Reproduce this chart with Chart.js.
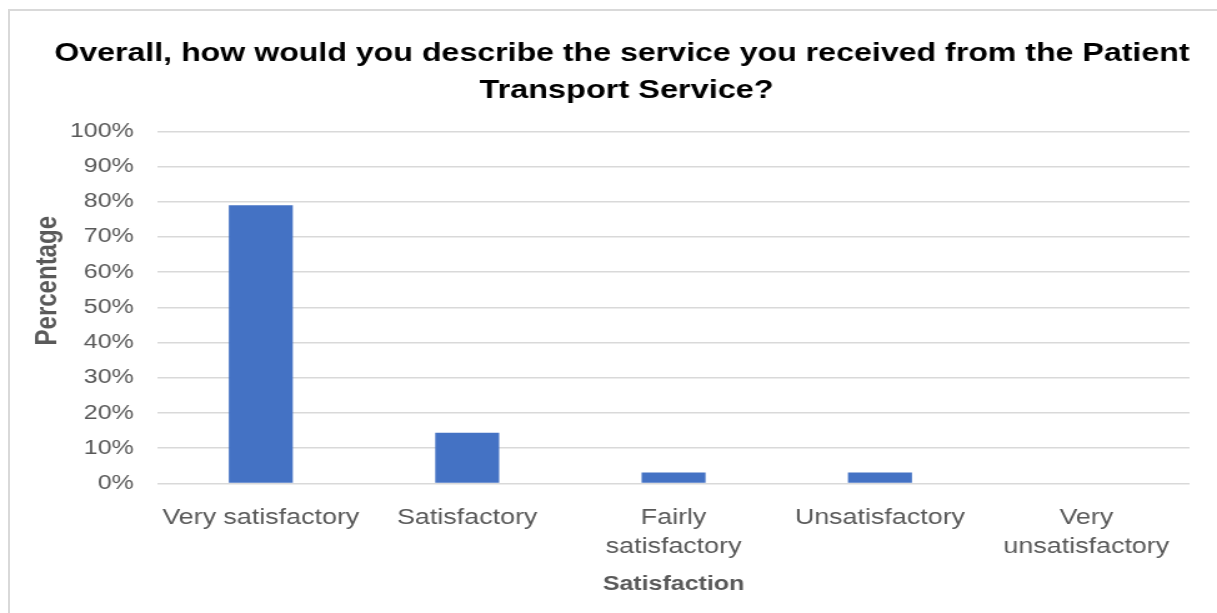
<!DOCTYPE html>
<html>
<head>
<meta charset="utf-8">
<script src="https://cdn.jsdelivr.net/npm/chart.js@4/dist/chart.umd.min.js"></script>
<style>
  html, body { margin: 0; padding: 0; background: #fff; }
  body { width: 1217px; height: 613px; position: relative; overflow: hidden; }
  .frame {
    position: absolute; left: 8px; top: 9px; width: 1300px; height: 700px;
    border-top: 2px solid #d9d9d9; border-left: 2px solid #d9d9d9;
  }
  /* the reference is stretched sideways, so the canvas is drawn narrower and scaled out */
  #chart { position: absolute; left: 0; top: 0; width: 1217px !important; height: 613px !important; }
</style>
</head>
<body>
<div class="frame"></div>
<canvas id="chart" width="974" height="613" style="width:1217px;height:613px"></canvas>
<script>
const categories = [
    'Very satisfactory',
    'Satisfactory',
    ['Fairly', 'satisfactory'],
    'Unsatisfactory',
    ['Very', 'unsatisfactory']
];
const percentages = [79, 14.4, 3.1, 3.1, 0];
const yTicks = [0, 10, 20, 30, 40, 50, 60, 70, 80, 90, 100];

const font = "'Liberation Sans', Arial, sans-serif";
const ctx = document.getElementById("chart");

const chart = new Chart(ctx, {
    type: 'bar',
    data: {
        labels: categories,
        datasets: [{
            data: percentages,
            backgroundColor: '#4472c4',
            borderWidth: 0,
            barPercentage: 0.31,
            categoryPercentage: 1
        }]
    },
    options: {
        responsive: false,
        animation: false,
        devicePixelRatio: 1,
        layout: {
            padding: { top: 25.5, left: 22, right: 22, bottom: 12.5 }
        },
        plugins: {
            legend: { display: false },
            tooltip: { enabled: false },
            title: {
                display: true,
                // leading spaces nudge each line right, as in the original
                text: ['   Overall, how would you describe the service you received from the Patient',
                       '    Transport Service?'],
                color: '#000000',
                font: { family: font, size: 26, weight: 'bold', lineHeight: 1.42 },
                padding: { top: 10, bottom: 22 }
            }
        },
        scales: {
            x: {
                grid: { display: false },
                border: { display: false },
                ticks: {
                    color: '#595959',
                    font: { family: font, size: 21.5, lineHeight: 1.35 },
                    padding: 12.5,
                    maxRotation: 0,
                    autoSkip: false
                },
                title: {
                    display: true,
                    text: 'Satisfaction',
                    color: '#595959',
                    font: { family: font, size: 20, weight: 'bold', lineHeight: 1.2 },
                    padding: { top: -2, bottom: 4 }
                }
            },
            y: {
                min: 0,
                max: 100,
                afterBuildTicks: axis => {
                    axis.ticks = yTicks.map(v => ({ value: v }));
                },
                afterFit: axis => {
                    // tick padding is counted twice in the width; take the outer half back
                    axis.width -= 17;
                },
                grid: {
                    color: '#d9d9d9',
                    lineWidth: 1.5,
                    drawTicks: false
                },
                border: { display: false },
                ticks: {
                    color: '#595959',
                    font: { family: font, size: 20 },
                    padding: 19,
                    callback: v => v + '%'
                },
                title: {
                    display: true,
                    // leading spaces lift the word above the middle of the axis
                    text: '        Percentage',
                    color: '#595959',
                    font: { family: font, size: 24, weight: 'bold', lineHeight: 1 },
                    padding: { top: 4, bottom: 4 }
                }
            }
        }
    }
});
</script>
</body>
</html>
